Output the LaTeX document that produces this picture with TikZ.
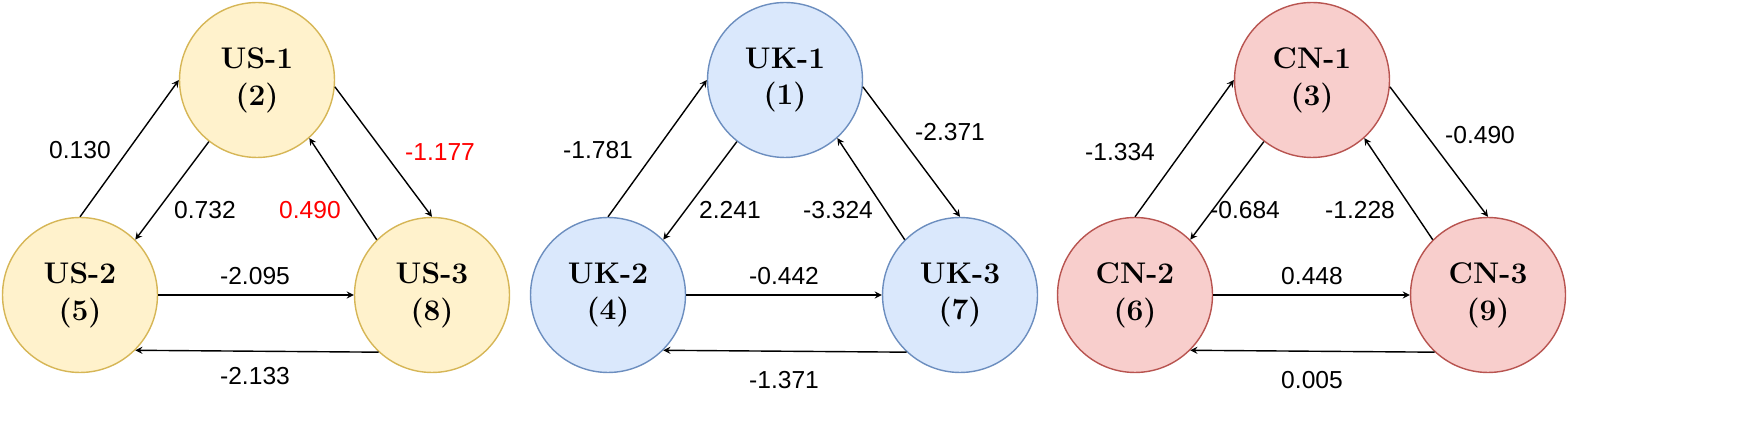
\documentclass[tikz,border=0pt]{standalone}
\usepackage{fontspec}
\newfontfamily\labelfont{Liberation Sans}
\begin{document}
\begin{tikzpicture}[x=0.02cm,y=-0.02cm,
    state/.style={circle,draw,line width=0.8pt,minimum size=3.1cm,inner sep=0pt,
        align=center,font=\fontsize{17}{21}\selectfont\bfseries},
    usnode/.style={state,fill={rgb,255:red,255;green,242;blue,204},draw={rgb,255:red,214;green,182;blue,86}},
    uknode/.style={state,fill={rgb,255:red,218;green,232;blue,252},draw={rgb,255:red,108;green,142;blue,191}},
    cnnode/.style={state,fill={rgb,255:red,248;green,206;blue,204},draw={rgb,255:red,184;green,84;blue,80}},
    edge/.style={->,>=stealth,line width=0.8pt},
    weight/.style={font=\labelfont\fontsize{14}{16}\selectfont,inner sep=1pt}]
    \useasboundingbox (0,0) rectangle (1743,438);
    % US
    \node[usnode] (us1) at (257,80) {US-\oldstylenums{1}\\(\oldstylenums{2})};
    \node[usnode] (us2) at (80,295) {US-\oldstylenums{2}\\(\oldstylenums{5})};
    \node[usnode] (us3) at (432,295) {US-\oldstylenums{3}\\(\oldstylenums{8})};
    \draw[edge] (us2.90) -- (us1.180);
    \draw[edge] (us1.232) -- (us2.45);
    \draw[edge] (us1.-5) -- (us3.90);
    \draw[edge] (us3.135) -- (us1.-48);
    \draw[edge] (us2.0) -- (us3.180);
    \draw[edge] (us3.-133) -- (us2.-45);
    \node[weight] at (80,150) {0.130};
    \node[weight] at (205,210) {0.732};
    \node[weight,red] at (440,152) {-1.177};
    \node[weight,red] at (310,210) {0.490};
    \node[weight] at (255,276) {-2.095};
    \node[weight] at (255,376) {-2.133};
    % UK
    \node[uknode] (uk1) at (785,80) {UK-\oldstylenums{1}\\(\oldstylenums{1})};
    \node[uknode] (uk2) at (608,295) {UK-\oldstylenums{2}\\(\oldstylenums{4})};
    \node[uknode] (uk3) at (960,295) {UK-\oldstylenums{3}\\(\oldstylenums{7})};
    \draw[edge] (uk2.90) -- (uk1.180);
    \draw[edge] (uk1.232) -- (uk2.45);
    \draw[edge] (uk1.-5) -- (uk3.90);
    \draw[edge] (uk3.135) -- (uk1.-48);
    \draw[edge] (uk2.0) -- (uk3.180);
    \draw[edge] (uk3.-133) -- (uk2.-45);
    \node[weight] at (598,150) {-1.781};
    \node[weight] at (730,210) {2.241};
    \node[weight] at (950,132) {-2.371};
    \node[weight] at (838,210) {-3.324};
    \node[weight] at (784,276) {-0.442};
    \node[weight] at (784,380) {-1.371};
    % CN
    \node[cnnode] (cn1) at (1312,80) {CN-\oldstylenums{1}\\(\oldstylenums{3})};
    \node[cnnode] (cn2) at (1135,295) {CN-\oldstylenums{2}\\(\oldstylenums{6})};
    \node[cnnode] (cn3) at (1488,295) {CN-\oldstylenums{3}\\(\oldstylenums{9})};
    \draw[edge] (cn2.90) -- (cn1.180);
    \draw[edge] (cn1.232) -- (cn2.45);
    \draw[edge] (cn1.-5) -- (cn3.90);
    \draw[edge] (cn3.135) -- (cn1.-48);
    \draw[edge] (cn2.0) -- (cn3.180);
    \draw[edge] (cn3.-133) -- (cn2.-45);
    \node[weight] at (1120,152) {-1.334};
    \node[weight] at (1245,210) {-0.684};
    \node[weight] at (1360,210) {-1.228};
    \node[weight] at (1480,135) {-0.490};
    \node[weight] at (1312,276) {0.448};
    \node[weight] at (1312,380) {0.005};
\end{tikzpicture}
\end{document}
